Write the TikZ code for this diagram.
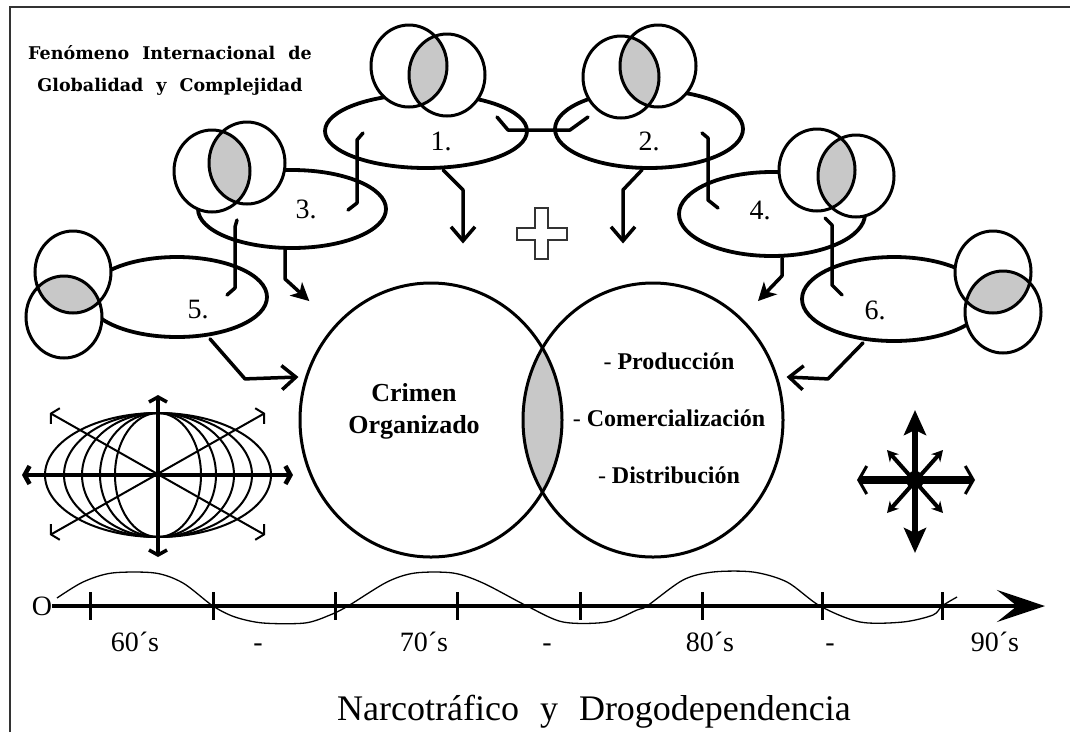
\documentclass[tikz,border=0pt]{standalone}
\usepackage{fontspec}
\setmainfont{Liberation Serif}
\newfontfamily\titlefont{DejaVu Serif}
\usetikzlibrary{shapes.geometric, arrows.meta, calc}
\definecolor{lensgray}{RGB}{200,200,200}
\newcommand\vennpair[2]{%
  \fill[white] #1 ellipse[x radius=38, y radius=41] #2 ellipse[x radius=38, y radius=41];
  \begin{scope}
    \clip #1 ellipse[x radius=38, y radius=41];
    \fill[lensgray] #2 ellipse[x radius=38, y radius=41];
  \end{scope}
  \draw[venn] #1 ellipse[x radius=38, y radius=41] #2 ellipse[x radius=38, y radius=41];
}
\tikzset{
  stage/.style={ellipse, draw, line width=3.8pt, inner sep=0pt},
  core/.style={ellipse, draw, line width=3pt, inner sep=0pt, minimum height=274pt},
  venn/.style={line width=3pt},
  num/.style={font=\fontsize{28}{32}\selectfont, inner sep=0pt},
  yearlbl/.style={num, anchor=base},
  corelbl/.style={font=\fontsize{26}{32}\selectfont\bfseries, align=center, inner sep=0pt},
  list/.style={font=\fontsize{24}{57}\selectfont\bfseries, align=center, inner sep=0pt},
  topic/.style={font=\titlefont\bfseries\fontsize{17.5}{32}\selectfont, execute at begin node={\spaceskip=13pt\relax}, align=center, inner sep=0pt},
  headline/.style={font=\fontsize{36}{40}\selectfont, execute at begin node={\spaceskip=21pt\relax}, inner sep=0pt},
  link/.style={line width=3.5pt, line cap=round, line join=round},
  feed/.style={link, -{Straight Barb[length=14pt,width=24pt]}},
  push/.style={link, -{Stealth[length=18pt,width=18pt,inset=5pt]}},
  meridian/.style={line width=2pt},
  spoke/.style={line width=2pt, arrows={Straight Barb[length=5pt,width=18pt]-Straight Barb[length=5pt,width=18pt]}},
  axis/.style={line width=4.5pt, -{Stealth[length=48pt,width=32pt,inset=20pt]}},
  tick/.style={line width=3pt},
  wave/.style={line width=1.3pt},
  cross/.style={line width=1.8pt, draw=black!80, line join=miter},
  frame/.style={line width=2.5pt, draw=black!80}
}
\begin{document}
\begin{tikzpicture}[x=1pt, y=-1pt]
\useasboundingbox (0,0) rectangle (1070,732);
\draw[frame] (10,732) -- (10,7) -- (1070,7);
\node[topic, anchor=north] (topic) at (170,45) {Fenómeno Internacional de\\Globalidad y Complejidad};
\node[stage, minimum width=202pt, minimum height=74pt] (e1) at (426,131) {};
\node[stage, minimum width=188pt, minimum height=78pt] (e2) at (649,129) {};
\node[stage, minimum width=188pt, minimum height=78pt] (e3) at (292,209) {};
\node[stage, minimum width=186pt, minimum height=84pt] (e4) at (772,214) {};
\node[stage, minimum width=180pt, minimum height=80pt] (e5) at (177,297) {};
\node[stage, minimum width=184pt, minimum height=84pt] (e6) at (894,299) {};
\vennpair{(409,66)}{(447,75)}
\vennpair{(621,77)}{(658,66)}
\vennpair{(212,171)}{(247,163)}
\vennpair{(817,170)}{(856,176)}
\vennpair{(73,272)}{(64,317)}
\vennpair{(993,272)}{(1003,312)}
\node[num] (n1) at (441,141) {1.};
\node[num] (n2) at (649,141) {2.};
\node[num] (n3) at (306,209) {3.};
\node[num] (n4) at (760,210) {4.};
\node[num] (n5) at (198,310) {5.};
\node[num] (n6) at (875,310) {6.};
\begin{scope}
  \clip (431,420) ellipse[x radius=131, y radius=137];
  \fill[lensgray] (653,420) ellipse[x radius=130, y radius=137];
\end{scope}
\node[core, minimum width=262pt] (crime) at (431,420) {};
\node[core, minimum width=260pt] (trade) at (653,420) {};
\node[corelbl] (crimelbl) at (414,411) {Crimen\\Organizado};
\node[list] (items) at (669,418) {\textmd{-} Producción\\\textmd{-} Comercialización\\\textmd{-} Distribución};
\draw[link] ($(e1.center)+(71,-14)$) -- ++(11,13) -- ($(e2.center)+(-79,1)$) -- ++(18,-13);
\draw[link] ($(e1.center)+(-63,2)$) -- ++(-6,7) -- ($(e3.center)+(65,-6)$) -- ++(-9,7);
\draw[link] ($(e3.center)+(-55,11)$) -- ++(-2,7) -- ($(e5.center)+(58,-9)$) -- ++(-8,7);
\draw[link] ($(e2.center)+(53,4)$) -- ++(6,5) -- ($(e4.center)+(-64,-14)$) -- ++(10,8);
\draw[link] ($(e4.center)+(53,4)$) -- ++(7,7) -- ($(e6.center)+(-62,-14)$) -- ++(10,10);
\draw[feed] ($(e1.south)+(17,0)$) -- ++(20,20) -- ($(crime.north)+(32,-38)$);
\draw[feed] ($(e2.south)+(-7,0)$) -- ++(-19,20) -- ($(trade.north)+(-30,-38)$);
\draw[push] ($(e3.south)+(-7,0)$) -- ++(0,29) -- ($(crime.north west)+(-28,-21)$);
\draw[push] ($(e4.south)+(10,0)$) -- ++(0,18) -- ($(trade.north east)+(12,-21)$);
\draw[feed] ($(e5.south)+(33,0)$) -- ++(35,40) -- ($(crime.west)+(0,-43)$);
\draw[feed] ($(e6.south)+(-31,0)$) -- ++(-35,36) -- ($(trade.east)+(2,-43)$);
\coordinate (plus) at (541.5,234);
\draw[cross] (plus) ++(-6.5,-26) -- ++(13,0) -- ++(0,20) -- ++(19,0) -- ++(0,12) -- ++(-19,0) -- ++(0,19) -- ++(-13,0) -- ++(0,-19) -- ++(-18,0) -- ++(0,-12) -- ++(18,0) -- cycle;
\coordinate (globe) at (158,475);
\foreach \r in {43,58,76,94,113}
  \draw[meridian] (globe) ellipse[x radius=\r, y radius=62];
\draw[spoke, line width=4.5pt] (globe) ++(-136,0) -- ++(271,0);
\draw[spoke, line width=3.5pt] (globe) ++(0,-80) -- ++(0,162);
\draw[spoke] (globe) ++(-108,-62) -- ++(215,122);
\draw[spoke] (globe) ++(107,-62) -- ++(-215,122);
\coordinate (burst) at (915,480);
\draw[line width=8pt, arrows={Straight Barb[length=8pt,width=28pt,line width=3pt]-Straight Barb[length=8pt,width=28pt,line width=3pt]}] (burst) ++(-58,0) -- ++(118,0);
\draw[line width=6pt, arrows={Stealth[length=25pt,width=22pt,inset=5pt]-Stealth[length=25pt,width=22pt,inset=5pt]}] (burst) ++(0,-70) -- ++(0,143);
\draw[line width=4pt, arrows={Stealth[length=11pt,width=12pt]-Stealth[length=11pt,width=12pt]}] (burst) ++(-28,-30) -- ++(56,63);
\draw[line width=4pt, arrows={Stealth[length=11pt,width=12pt]-Stealth[length=11pt,width=12pt]}] (burst) ++(28,-30) -- ++(-56,63);
\fill (burst) circle[radius=9];
\node[num] (o) at (42,606) {O};
\coordinate (tip) at (1045,606);
\draw[wave] plot[smooth] coordinates {(57,598) (83,582) (112,573) (155,573) (183,583) (213,606) (235,617) (263,623) (305,623) (330,615) (348,606) (387,582) (415,573) (453,573) (483,583) (527,606) (563,622) (607,622) (637,610) (647,606) (683,580) (713,572) (753,572) (787,582) (820,606) (860,622) (903,622) (933,615) (942,606) (957,597)};
\draw[axis] (o.east) -- (tip);
\foreach \x in {90,213,335,457,580,702,822,942}
  \draw[tick] (\x,592) -- (\x,620);
\foreach \x/\t [count=\i] in {135/60´s,258/-,424/70´s,547/-,710/80´s,830/-,995/90´s}
  \node[yearlbl] (d\i) at (\x,651) {\t};
\node[headline, anchor=base] (head) at (594,720) {Narcotráfico y Drogodependencia};
\end{tikzpicture}
\end{document}
